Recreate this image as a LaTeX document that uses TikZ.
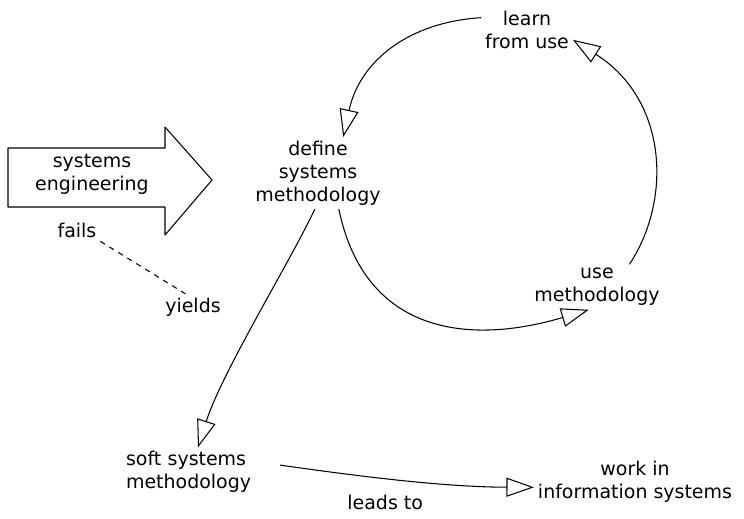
\documentclass[tikz,border=0pt]{standalone}
\usepackage{fontspec}
\setmainfont{DejaVu Sans}
\usetikzlibrary{arrows.meta}

\begin{document}
\begin{tikzpicture}[
    x=0.02cm, y=-0.02cm,
    font=\fontsize{10.8}{13}\selectfont,
    line width=0.6pt,
    lbl/.style={align=center, inner sep=2pt},
    tri/.style={-{Triangle[open,length=5.5mm,width=3.8mm]}},
    dsh/.style={dashed, dash pattern=on 3pt off 3pt}
  ]
    \useasboundingbox (0,0) rectangle (744,518);
    % the big arrow on the left
    \draw[line join=round] (8,148) -- (165,148) -- (165,127) -- (212,180)
      -- (165,235) -- (165,207) -- (8,207) -- cycle;
    \node[lbl] (se) at (92,174) {systems\\engineering};
    \node[lbl] (fails)  at (77,230)  {fails};
    \node[lbl] (yields) at (193,307) {yields};
    % the cycle
    \node[lbl] (learn)  at (527,30)  {learn\\from use};
    \node[lbl] (define) at (318,173) {define\\systems\\methodology};
    \node[lbl] (use)    at (597,287) {use\\methodology};
    % below
    \node[lbl, anchor=west, text width=3cm, align=left] (soft) at (122,472)
      {soft systems\\methodology};
    \node[lbl] (work) at (635,482) {work in\\information systems};

    \draw[tri] (learn.165) .. controls (410,22) and (360,60) .. (define.55);
    \draw[tri] (use.35) .. controls (672,200) and (668,100) .. (learn.-12);
    \draw[tri] (define.-60) .. controls (365,335) and (470,345) .. (use.-110);
    \draw[tri] (define.-95) .. controls (290,262) and (222,372) .. (soft.97);
    \draw[tri] (soft.5) .. controls (350,475) and (440,487) .. (work.-177)
      node[pos=0.45, below=6pt] (leads) {leads to};
    \draw[dsh] (fails.south east) -- (yields.120);
\end{tikzpicture}
\end{document}
